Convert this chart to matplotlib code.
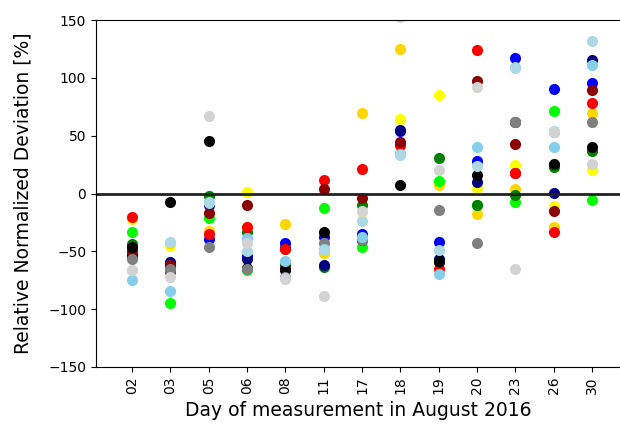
import matplotlib
matplotlib.use("Agg")
import matplotlib.pyplot as plt
import numpy as np

days = ["02", "03", "05", "06", "08", "11", "17", "18", "19", "20", "23", "26", "30"]

# Relative normalized deviation [%] per station, one value per day
yellow    = [-22.0, -45.5, -32.5,   1.5, -44.0, -51.0, -16.0,  64.5,  85.5,   4.5,  25.0, -10.5,  20.0]
gold      = [-47.0, -42.5, -32.0, -29.0, -26.0, -51.5,  70.0, 125.0,   7.0, -18.0,   4.0, -29.0,  69.5]
lime      = [-33.5, -94.5, -21.5, -66.5, -48.0, -12.7, -46.0,  42.0,  11.0, -10.0,  -7.5,  71.0,  -6.0]
green     = [-44.0, -63.0,  -2.0, -33.0, -62.0, -63.5, -10.0,  43.0,  30.5, -10.0,  -1.5,  23.0,  36.5]
blue      = [-55.0, -60.0, -39.5, -54.0, -43.0, -38.0, -35.0,  54.0, -41.5,  28.0, 117.0,  90.5,  95.5]
navy      = [-53.0, -59.0, -10.0, -56.5, -47.5, -61.5, -39.0,  54.5, -57.0,  10.0,  18.0,   0.5, 115.5]
red       = [-20.5, -68.0, -35.0, -29.0, -48.0,  12.0,  21.5,  41.5, -65.0, 124.0,  17.5, -33.5,  78.0]
darkred   = [-49.5, -62.0, -16.5, -10.0, -64.0,   4.3,  -3.5,  44.5, -59.0,  97.5,  42.5, -15.5,  89.5]
black     = [-46.5,  -7.5,  45.0, -64.0, -66.5, -33.0, -40.0,   7.0, -58.0,  16.0,  61.5,  25.5,  40.5]
gray      = [-56.5, -65.5, -46.0, -65.0, -72.0, -43.0, -40.0,  34.0, -14.0, -43.0,  61.5,  53.0,  61.5]
skyblue   = [-75.0, -84.5,  -8.0, -38.5, -58.0, -48.0, -37.5,  34.0, -69.5,  40.0, 109.0,  40.5, 111.0]
lightblue = [-66.0, -42.0,  -7.5, -50.0, -73.0, -48.5, -24.0,  33.5, -48.5,  24.0, 108.5,  54.0, 131.5]
lightgray = [-66.0, -72.0,  67.0, -42.5, -73.5, -88.5, -15.0, 153.0,  20.5,  92.5, -65.0,  53.5,  25.5]

series = [
    ("yellow", yellow), ("gold", gold), ("lime", lime), ("green", green),
    ("blue", blue), ("navy", navy), ("red", red), ("darkred", darkred),
    ("black", black), ("gray", gray), ("skyblue", skyblue),
    ("lightblue", lightblue), ("lightgray", lightgray),
]

fig = plt.figure(figsize=(6.2, 4.25), dpi=100)
ax = fig.add_axes([96 / 620, 58 / 425, 525 / 620, 347 / 425])

x = np.arange(len(days))
for color, values in series:
    ax.scatter(x, values, color=color, s=64, linewidths=0)

ax.axhline(0, color="#222222", linewidth=2)

ax.set_xticks(x)
ax.set_xticklabels(days, rotation=90, fontsize=10)
ax.set_xlim(-0.94, 12.76)
ax.set_ylim(-150, 150)
ax.set_yticks([-150, -100, -50, 0, 50, 100, 150])
ax.tick_params(axis="y", labelsize=10)
ax.set_xlabel("Day of measurement in August 2016", fontsize=13.5, labelpad=5)
ax.set_ylabel("Relative Normalized Deviation [%]", fontsize=13.5, labelpad=11)

fig.savefig("out.png", dpi=100)
